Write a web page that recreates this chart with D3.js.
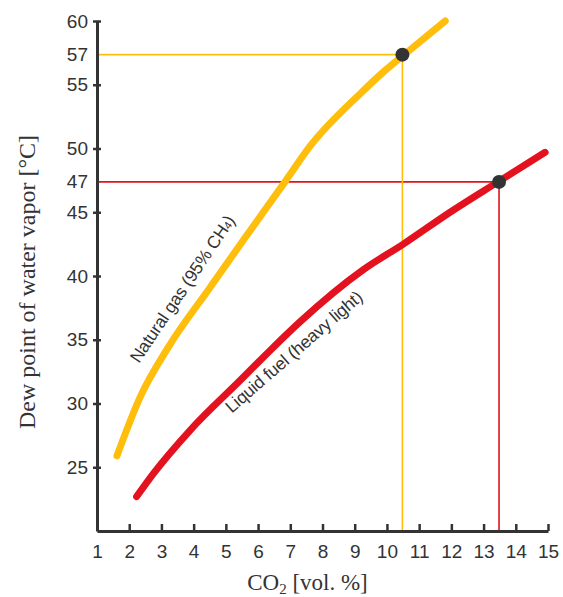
<!DOCTYPE html>
<html>
<head>
<meta charset="utf-8">
<script src="https://cdn.jsdelivr.net/npm/d3@7"></script>
<style>
  body { margin: 0; background: #fff; }
  svg { display: block; }
</style>
</head>
<body>
<svg id="chart" width="563" height="597"></svg>
<script>
// natural gas curve (95% CH4)
const gasCO2 = [1.62, 2.34, 3.21, 4.51, 5.54, 6.84, 7.62, 9.17, 9.89, 10.51, 11.81];
const gasDew = [25.9, 30.5, 34.4, 39.1, 42.8, 47.4, 50.2, 54.3, 56.0, 57.3, 60.0];

// liquid fuel curve
const oilCO2 = [2.23, 2.75, 3.89, 5.44, 6.43, 7.30, 9.27, 10.51, 11.96, 13.46, 14.91];
const oilDew = [22.7, 24.5, 27.9, 31.8, 34.3, 36.4, 40.5, 42.5, 45.0, 47.4, 49.7];

// highlighted reading points
const markerCO2 = [10.48, 13.48];
const markerDew = [57.36, 47.38];
const markerLabels = ["57", "47"];

const xTicks = [1, 2, 3, 4, 5, 6, 7, 8, 9, 10, 11, 12, 13, 14, 15];
const yTicks = [25, 30, 35, 40, 45, 50, 55, 60];

const YELLOW = "#FFBE0B";
const RED = "#E3121E";
const INK = "#333";

const svg = d3.select("#chart");
const margin = {top: 21, right: 15, bottom: 66, left: 97};
const width = 563 - margin.left - margin.right;
const height = 597 - margin.top - margin.bottom;

const g = svg.append("g").attr("transform", `translate(${margin.left},${margin.top})`);

const x = d3.scaleLinear().domain([1, 15]).range([0, width]);
const y = d3.scaleLinear().domain([20, 60]).range([height, 0]);

// reference lines from the axes to the marked points
const markers = markerCO2.map((c, i) => ({c, d: markerDew[i], label: markerLabels[i], color: i === 0 ? YELLOW : RED}));
g.selectAll(".hline").data(markers).enter().append("line")
  .attr("x1", 0).attr("x2", d => x(d.c))
  .attr("y1", d => y(d.d)).attr("y2", d => y(d.d))
  .attr("stroke", d => d.color).attr("stroke-width", 1.6);
g.selectAll(".vline").data(markers).enter().append("line")
  .attr("x1", d => x(d.c)).attr("x2", d => x(d.c))
  .attr("y1", d => y(d.d)).attr("y2", height)
  .attr("stroke", d => d.color).attr("stroke-width", 1.6);

// curves
const line = d3.line()
  .x(d => x(d[0]))
  .y(d => y(d[1]))
  .curve(d3.curveMonotoneX);

g.append("path")
  .datum(gasCO2.map((c, i) => [c, gasDew[i]]))
  .attr("d", line)
  .attr("fill", "none").attr("stroke", YELLOW)
  .attr("stroke-width", 7).attr("stroke-linecap", "round").attr("stroke-linejoin", "round");

g.append("path")
  .datum(oilCO2.map((c, i) => [c, oilDew[i]]))
  .attr("d", line)
  .attr("fill", "none").attr("stroke", RED)
  .attr("stroke-width", 7).attr("stroke-linecap", "round").attr("stroke-linejoin", "round");

// markers
g.selectAll(".dot").data(markers).enter().append("circle")
  .attr("cx", d => x(d.c)).attr("cy", d => y(d.d))
  .attr("r", 7).attr("fill", INK);

// axes
const xAxis = d3.axisBottom(x).tickValues(xTicks).tickSize(-7).tickSizeOuter(0).tickPadding(14);
const xAxisGroup = g.append("g").attr("transform", `translate(0,${height})`).call(xAxis);
const yAxis = d3.axisLeft(y).tickValues(yTicks).tickSize(4).tickSizeOuter(0).tickPadding(5);
const yAxisGroup = g.append("g").call(yAxis);

[xAxisGroup, yAxisGroup].forEach(a => {
  a.select(".domain").attr("stroke", INK).attr("stroke-width", 3);
  a.selectAll(".tick line").attr("stroke", INK).attr("stroke-width", 2.5);
  a.selectAll("text")
    .attr("fill", INK)
    .style("font-family", "'Liberation Sans', Arial, sans-serif")
    .style("font-size", "19px");
});
xAxisGroup.selectAll(".tick").filter(d => d === 1).select("line").remove();
yAxisGroup.selectAll(".tick line").attr("x1", 4);

// extra y labels at the marked points
g.selectAll(".mlabel").data(markers).enter().append("text")
  .attr("x", -9).attr("y", d => y(d.d)).attr("dy", "0.34em")
  .attr("text-anchor", "end").attr("fill", INK)
  .style("font-family", "'Liberation Sans', Arial, sans-serif")
  .style("font-size", "19px")
  .text(d => d.label);

// curve labels
const curveLabel = (cx, cy, angle, parts) => {
  const t = g.append("text")
    .attr("transform", `translate(${x(cx)},${y(cy)}) rotate(${angle})`)
    .attr("fill", INK)
    .style("font-family", "'Liberation Sans', Arial, sans-serif")
    .style("font-size", "17.5px")
    .style("letter-spacing", "-0.2px");
  parts.forEach(p => {
    const s = t.append("tspan").text(p.text);
    if (p.sub) s.attr("font-size", "11px");
  });
};
curveLabel(2.3, 33.1, -56, [{text: "Natural gas (95% CH"}, {text: "4", sub: true}, {text: ")"}]);
curveLabel(5.18, 29.2, -41, [{text: "Liquid fuel (heavy light)"}]);

// axis titles
svg.append("text")
  .attr("x", margin.left + width / 2 - 15).attr("y", 590)
  .attr("text-anchor", "middle").attr("fill", INK)
  .style("font-family", "'Liberation Serif', 'Times New Roman', serif")
  .style("font-size", "23px")
  .html('CO<tspan font-size="15px" dy="4">2</tspan><tspan dy="-4"> [vol. %]</tspan>');

svg.append("text")
  .attr("transform", "translate(35,282) rotate(-90)")
  .attr("text-anchor", "middle").attr("fill", INK)
  .style("font-family", "'Liberation Serif', 'Times New Roman', serif")
  .style("font-size", "24px")
  .text("Dew point of water vapor [°C]");
</script>
</body>
</html>
